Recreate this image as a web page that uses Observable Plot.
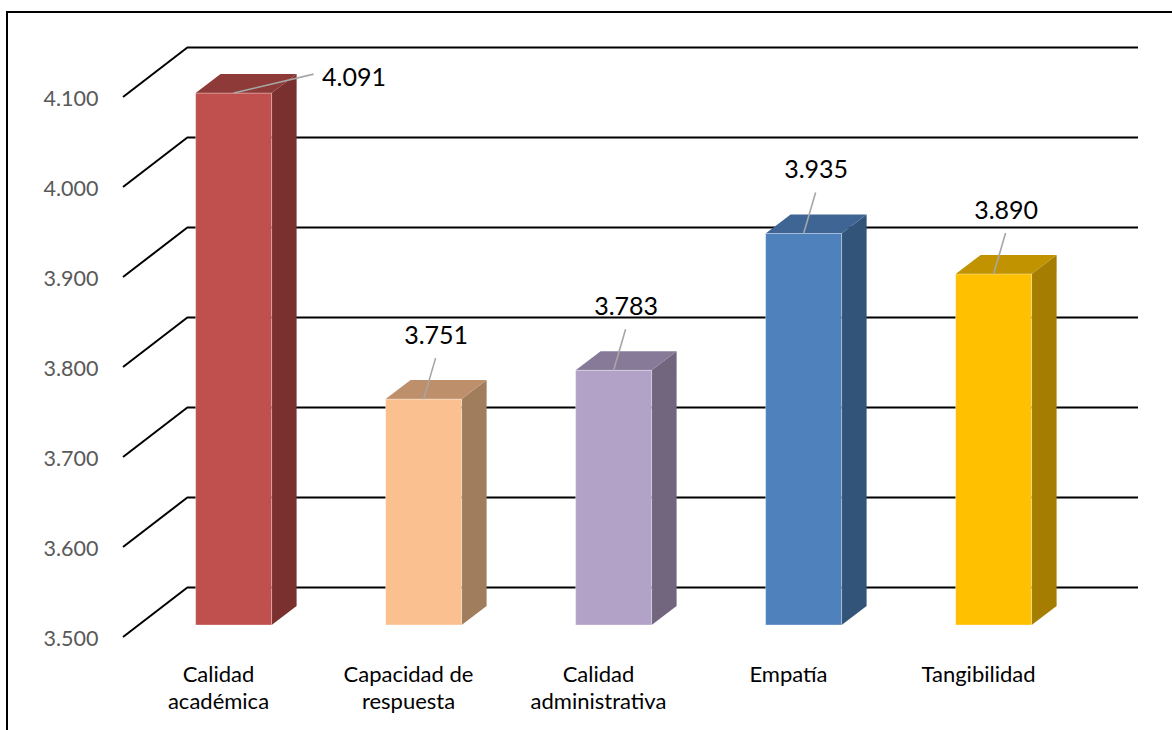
<!DOCTYPE html>
<html>
<head>
<meta charset="utf-8">
<script src="https://cdn.jsdelivr.net/npm/d3@7"></script>
<script src="https://cdn.jsdelivr.net/npm/@observablehq/plot@0.6"></script>
<style>
  html, body { margin: 0; padding: 0; background: #fff; overflow: hidden; }
  #wrap { position: relative; width: 1172px; height: 730px; }
  #border { position: absolute; left: 6px; top: 11px; width: 1300px; height: 900px; border: 2px solid #000; box-sizing: border-box; }
  #chart { position: absolute; left: 0; top: 0; }
</style>
</head>
<body>
<div id="wrap"><div id="border"></div><div id="chart"></div></div>
<script>
// ---- data ----
const categories = ["Calidad académica", "Capacidad de respuesta", "Calidad administrativa", "Empatía", "Tangibilidad"];
const categoryLabels = ["Calidad\nacadémica", "Capacidad de\nrespuesta", "Calidad\nadministrativa", "Empatía", "Tangibilidad"];
const values = [4.091, 3.751, 3.783, 3.935, 3.890];
const yTicks = [3.5, 3.6, 3.7, 3.8, 3.9, 4.0, 4.1];
const frontColors = ["#C0504D", "#FAC090", "#B3A2C7", "#4F81BD", "#FFC000"];
const topColors   = ["#8E3A38", "#BE8F6B", "#877A98", "#3E6593", "#C29300"];
const sideColors  = ["#7A302F", "#A07D5C", "#72667F", "#325479", "#A57D00"];

const data = categories.map((c, i) => ({
  category: c, label: categoryLabels[i], value: values[i],
  front: frontColors[i], top: topColors[i], side: sideColors[i]
}));

// ---- 3D projection styling ----
const W = 1172, H = 730;
const wall = {dx: 65, dy: -50};        // back wall offset
const plane = {dx: 15.6, dy: -12};     // bar front plane offset
const depth = {dx: 25, dy: -19};       // bar depth
const base = yTicks[0];
const fmt = d3.format(".3f");
const font = "Lato, 'Open Sans', sans-serif";

function diagonals(index, {y}, values, dims) {
  const g = d3.create("svg:g").attr("stroke", "#000").attr("stroke-width", 2);
  const left = dims.marginLeft;
  for (const t of yTicks) {
    g.append("line")
      .attr("x1", left).attr("y1", y(t))
      .attr("x2", left + wall.dx).attr("y2", y(t) + wall.dy);
  }
  return g.node();
}

function barFaces(index, {x, y}) {
  const g = d3.create("svg:g");
  const bw = x.bandwidth();
  for (const d of data) {
    const L = x(d.category) + plane.dx, R = L + bw;
    const T = y(d.value) + plane.dy, B = y(base) + plane.dy;
    g.append("path")
      .attr("d", `M${R},${T}L${R + depth.dx},${T + depth.dy}L${R + depth.dx},${B + depth.dy}L${R},${B}Z`)
      .attr("fill", d.side);
    g.append("path")
      .attr("d", `M${L},${T}L${R},${T}L${R + depth.dx},${T + depth.dy}L${L + depth.dx},${T + depth.dy}Z`)
      .attr("fill", d.top);
  }
  return g.node();
}

const isHigh = d => d.value > 4.05;
const lab = {dx: 12, dy: -64};

function leaders(index, {x, y}) {
  const g = d3.create("svg:g").attr("stroke", "#A6A6A6").attr("stroke-width", 1.6);
  const bw = x.bandwidth();
  for (const d of data) {
    const cx = x(d.category) + plane.dx + bw / 2;
    const T = y(d.value) + plane.dy;
    if (isHigh(d)) {
      g.append("line").attr("x1", cx).attr("y1", T).attr("x2", cx + 80).attr("y2", T - 19);
    } else {
      g.append("line").attr("x1", cx).attr("y1", T).attr("x2", cx + lab.dx).attr("y2", T + lab.dy + 23);
    }
  }
  return g.node();
}

const chart = Plot.plot({
  width: W,
  height: H,
  marginLeft: 123,
  marginRight: W - 1073,
  marginTop: 97,
  marginBottom: H - 637,
  style: {background: "transparent", fontFamily: font},
  x: {domain: categories, range: [123, 1073], paddingInner: 0.6, paddingOuter: 0.3, axis: null},
  y: {domain: [3.5, 4.1], range: [637, 97], axis: null},
  marks: [
    Plot.ruleY(yTicks, {stroke: "#000", strokeWidth: 2, dx: wall.dx, dy: wall.dy}),
    diagonals,
    Plot.text(yTicks, {y: d => d, frameAnchor: "left", textAnchor: "end", dx: -25, dy: 2,
      text: d => fmt(d), fill: "#595959", fontSize: 21.5}),
    barFaces,
    Plot.barY(data, {x: "category", y1: () => base, y2: "value", fill: "front",
      dx: plane.dx, dy: plane.dy, stroke: "#fff", strokeOpacity: 0.35, strokeWidth: 1}),
    leaders,
    Plot.text(data.filter(d => !isHigh(d)), {x: "category", y: "value", text: d => fmt(d.value),
      dx: plane.dx + lab.dx, dy: plane.dy + lab.dy, fill: "#000", fontSize: 25}),
    Plot.text(data.filter(isHigh), {x: "category", y: "value", text: d => fmt(d.value),
      textAnchor: "start", dx: plane.dx + 88, dy: plane.dy - 16, fill: "#000", fontSize: 25}),
    Plot.text(data, {x: "category", text: "label", frameAnchor: "bottom", lineAnchor: "top",
      dy: 26, lineHeight: 1.2, fill: "#000", fontSize: 22})
  ]
});

document.getElementById("chart").appendChild(chart);
</script>
</body>
</html>
